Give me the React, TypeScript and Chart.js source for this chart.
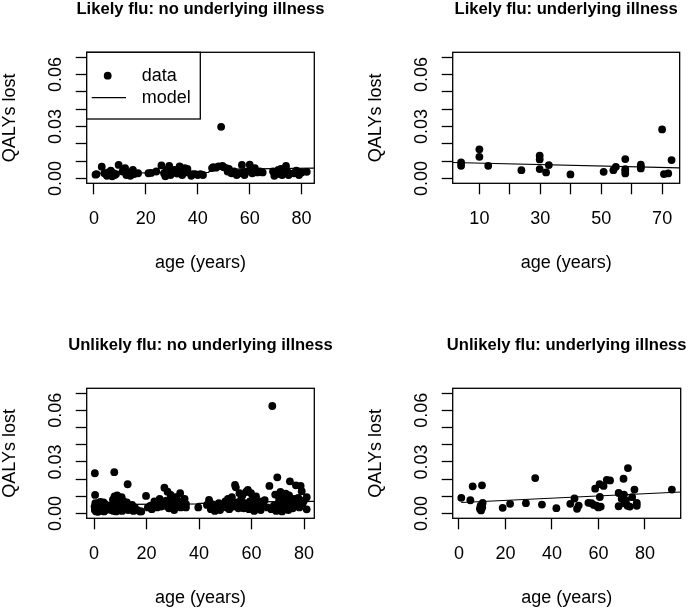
import React, { useEffect, useRef } from 'react';
import { Chart, registerables } from 'chart.js';

Chart.register(...registerables);

const FONT = '"Liberation Sans", Arial, Helvetica, sans-serif';

// ---------- axis ticks ----------
const yTickValues = [0, 0.01, 0.02, 0.03, 0.04, 0.05, 0.06, 0.07];
const yTickLabels = ['0.00', '', '', '0.03', '', '', '0.06', ''];
const xTicksWide = [0, 20, 40, 60, 80];
const xTickLabelsWide = ['0', '20', '40', '60', '80'];
const xTicksNarrow = [10, 20, 30, 40, 50, 60, 70];
const xTickLabelsNarrow = ['10', '', '30', '', '50', '', '70'];

const titles = [
  'Likely flu: no underlying illness',
  'Likely flu: underlying illness',
  'Unlikely flu: no underlying illness',
  'Unlikely flu: underlying illness',
];
const legendLabels = ['data', 'model'];
const xAxisTitle = 'age (years)';
const yAxisTitle = 'QALYs lost';

// ---------- Likely flu: no underlying illness ----------
const tlAges = [0.6, 1, 3, 4, 5, 5.5, 6, 6.5, 7, 7.5, 8, 8.5, 9.5, 11, 12, 12.5, 13, 14, 15, 15.5, 17, 21, 22, 24, 26, 27, 27.5, 28, 29, 29.5, 30, 31, 32, 33, 33.5, 34, 35, 35.5, 36, 37.5, 38, 39, 40, 41, 42, 45.5, 46, 47, 48, 49, 49.5, 50, 51, 51.5, 52, 53, 54, 55, 56, 57, 57.5, 58, 59, 60, 60.5, 61, 62, 63, 64, 65, 69, 69.5, 70, 71, 71.5, 72, 72.5, 73, 74, 74.5, 75, 77, 78, 79, 80, 82];
const tlQalys = [0.0022, 0.0025, 0.0068, 0.003, 0.0015, 0.0035, 0.002, 0.0045, 0.0012, 0.003, 0.002, 0.0025, 0.0078, 0.004, 0.006, 0.002, 0.0035, 0.0015, 0.005, 0.0025, 0.003, 0.003, 0.0032, 0.004, 0.0075, 0.003, 0.0012, 0.005, 0.0072, 0.002, 0.0035, 0.005, 0.0028, 0.007, 0.0045, 0.002, 0.006, 0.0035, 0.0055, 0.0015, 0.0025, 0.0025, 0.002, 0.0025, 0.002, 0.006, 0.0065, 0.0062, 0.007, 0.0298, 0.0072, 0.0065, 0.006, 0.004, 0.0055, 0.003, 0.004, 0.002, 0.003, 0.0078, 0.0035, 0.002, 0.004, 0.008, 0.005, 0.003, 0.006, 0.0035, 0.004, 0.0035, 0.004, 0.0015, 0.003, 0.005, 0.0025, 0.0055, 0.002, 0.004, 0.0072, 0.004, 0.002, 0.003, 0.0045, 0.002, 0.0035, 0.0038];
const tlModelAges = [0, 44, 46, 84.9];
const tlModelQalys = [0.003, 0.0035, 0.0052, 0.006];

// ---------- Likely flu: underlying illness ----------
const trAges = [4, 4, 10, 10, 12.9, 23.8, 29.8, 29.8, 29.8, 31.9, 32.8, 39.9, 50.8, 54, 54.8, 57.9, 57.9, 57.9, 57.9, 63, 63, 63, 70, 70.6, 72, 73.1];
const trQalys = [0.0092, 0.0073, 0.0168, 0.0125, 0.0073, 0.0048, 0.0131, 0.011, 0.0054, 0.0035, 0.0077, 0.0023, 0.0038, 0.0048, 0.0067, 0.0112, 0.0054, 0.0029, 0.0044, 0.0079, 0.0058, 0.0068, 0.0283, 0.0025, 0.0029, 0.0106];
const trModelAges = [1.24, 75.76];
const trModelQalys = [0.0092, 0.0061];

// ---------- Unlikely flu: no underlying illness ----------
const blAges = [
  0.3, 0.4, 0.2, 0.3, 0.5, 0.6, 0.8, 1, 1.1, 1.3, 1.5, 1.6, 1.8, 2, 2.2, 2.4, 2.6, 2.9, 3.1, 3.3, 3.6, 3.8, 4, 4.3, 4.6, 5,
  6.5, 6.8, 7, 7.2, 7.4, 7.6, 7.7, 7.8, 8, 8.2, 8.4, 8.6, 8.8, 9, 9.2, 9.4, 9.6, 9.8, 10, 10.2, 10.5, 10.7, 11, 11.3, 11.5,
  12, 12.5, 12.8, 13, 13.5, 14, 14.5, 15, 15.5, 16.5, 17.5, 18,
  19.8, 20.5, 21.5, 22, 23, 23.5, 24, 25, 25.5, 26, 26.8, 27,
  27.5, 28, 28.5, 29.2, 29.5, 30, 30.5, 31, 31.5, 32, 32.8, 33, 33.5, 34, 34.5, 35, 35,
  39.7, 43, 43.8, 44.5, 45, 45.5, 46, 46.5, 47.5, 48, 48.5, 49.5, 50,
  50.5, 51, 51.5, 52, 52.5, 53, 53.7, 54, 54.5, 55, 55.4, 55.8, 56, 56.5, 57, 57.5, 57.9, 58.2, 58.6, 59, 59.4, 59.8, 60.2, 60.5, 61, 61.3, 61.7, 62, 62.5, 63, 63.5, 64.5, 65, 66,
  66.8, 67.5, 67.9, 68.5, 69, 69.4, 69.8, 70.2, 70.5, 70.8, 71, 71.3, 71.6, 71.9, 72.2, 72.5, 72.8, 73, 73.3, 73.6, 74, 74.3, 74.6, 75, 75.3, 75.7, 76.2, 76.9, 77.3, 77.8, 78.2, 78.7, 79.1, 79.5, 80, 81, 81,
];
const blQalys = [
  0.0234, 0.0108, 0.004, 0.002, 0.006, 0.003, 0.0012, 0.005, 0.0025, 0.0035, 0.001, 0.006, 0.003, 0.0045, 0.0015, 0.0068, 0.003, 0.005, 0.002, 0.004, 0.0065, 0.0012, 0.003, 0.0055, 0.002, 0.004,
  0.002, 0.005, 0.0035, 0.008, 0.0015, 0.006, 0.024, 0.01, 0.003, 0.0045, 0.0012, 0.007, 0.0105, 0.0025, 0.005, 0.0085, 0.0018, 0.004, 0.006, 0.003, 0.0095, 0.0015, 0.005, 0.007, 0.0025,
  0.004, 0.0065, 0.017, 0.002, 0.0045, 0.003, 0.005, 0.0015, 0.0035, 0.002, 0.0012, 0.0012,
  0.0102, 0.0035, 0.0045, 0.0025, 0.007, 0.005, 0.0035, 0.0085, 0.004, 0.006, 0.015, 0.0045,
  0.0075, 0.0127, 0.003, 0.0108, 0.006, 0.0085, 0.002, 0.0095, 0.005, 0.0075, 0.0118, 0.0035, 0.0065, 0.0045, 0.0085, 0.0055, 0.0035,
  0.0035, 0.005, 0.0079, 0.0025, 0.0055, 0.0035, 0.0015, 0.0045, 0.006, 0.002, 0.0035, 0.005, 0.007,
  0.0035, 0.0085, 0.0025, 0.0055, 0.0095, 0.004, 0.0166, 0.0152, 0.0065, 0.003, 0.0118, 0.0045, 0.008, 0.0105, 0.003, 0.006, 0.0125, 0.0045, 0.0137, 0.0025, 0.007, 0.0118, 0.004, 0.0085, 0.0015, 0.0055, 0.0099, 0.003, 0.0065, 0.007, 0.002, 0.0045, 0.0078, 0.0035,
  0.016, 0.0025, 0.0625, 0.0045, 0.011, 0.0015, 0.021, 0.006, 0.0085, 0.003, 0.0125, 0.0045, 0.0012, 0.007, 0.0095, 0.0025, 0.005, 0.0115, 0.0035, 0.0075, 0.002, 0.0105, 0.0187, 0.0045, 0.0065, 0.003, 0.0085, 0.0164, 0.0055, 0.009, 0.0035, 0.016, 0.013, 0.006, 0.0075, 0.0095, 0.0024,
];
const blModelAges = [0, 39, 40, 59.5, 60.5, 83.9];
const blModelQalys = [0.0052, 0.0056, 0.0059, 0.0062, 0.0068, 0.007];

// ---------- Unlikely flu: underlying illness ----------
const brAges = [1, 4.9, 5.9, 9, 9.3, 9.5, 9.9, 10, 10.2, 18.8, 22, 28.8, 32.8, 35.7, 41.9, 47.9, 49.7, 50.8, 51.5, 55.7, 57, 58, 58.6, 59.2, 60, 60.5, 60.6, 61, 62.2, 63.6, 65, 68.7, 68.7, 70, 70.8, 71, 71.3, 71.8, 72.7, 72.5, 73.5, 74.5, 75.5, 76.5, 76.5, 91.6];
const brQalys = [0.0091, 0.0077, 0.0158, 0.0028, 0.0045, 0.0018, 0.0164, 0.0035, 0.0062, 0.0033, 0.0056, 0.006, 0.0206, 0.0052, 0.0031, 0.0056, 0.0087, 0.0027, 0.0046, 0.0062, 0.006, 0.005, 0.0144, 0.0045, 0.0035, 0.0171, 0.0096, 0.004, 0.016, 0.0196, 0.0192, 0.0119, 0.0042, 0.0085, 0.0202, 0.011, 0.006, 0.0075, 0.0264, 0.0045, 0.004, 0.0095, 0.0139, 0.0062, 0.0045, 0.0139];
const brModelAges = [1, 95.4];
const brModelQalys = [0.0064, 0.0125];

const Y_MIN = -0.0028;
const Y_MAX = 0.0728;

type Panel = {
  title: string;
  ages: number[];
  qalys: number[];
  mAges: number[];
  mQalys: number[];
  xMin: number;
  xMax: number;
  xTicks: number[];
  xLabels: string[];
  legend: boolean;
  left: number;
  top: number;
  w: number;
  h: number;
  area: { l: number; t: number; r: number; b: number };
};

const panels: Panel[] = [
  { title: titles[0], ages: tlAges, qalys: tlQalys, mAges: tlModelAges, mQalys: tlModelQalys, xMin: -2.8, xMax: 84.9, xTicks: xTicksWide, xLabels: xTickLabelsWide, legend: true,
    left: 0, top: 0, w: 344, h: 300, area: { l: 86.7, t: 52.3, r: 314.3, b: 183.3 } },
  { title: titles[1], ages: trAges, qalys: trQalys, mAges: trModelAges, mQalys: trModelQalys, xMin: 1.24, xMax: 75.76, xTicks: xTicksNarrow, xLabels: xTickLabelsNarrow, legend: false,
    left: 344, top: 0, w: 344, h: 300, area: { l: 108.7, t: 52.3, r: 336.7, b: 183.3 } },
  { title: titles[2], ages: blAges, qalys: blQalys, mAges: blModelAges, mQalys: blModelQalys, xMin: -2.8, xMax: 83.9, xTicks: xTicksWide, xLabels: xTickLabelsWide, legend: false,
    left: 0, top: 300, w: 344, h: 309, area: { l: 86.7, t: 88.3, r: 314.3, b: 218.3 } },
  { title: titles[3], ages: brAges, qalys: brQalys, mAges: brModelAges, mQalys: brModelQalys, xMin: -2.7, xMax: 95.4, xTicks: xTicksWide, xLabels: xTickLabelsWide, legend: false,
    left: 344, top: 300, w: 344, h: 309, area: { l: 108.7, t: 88.3, r: 336.7, b: 218.3 } },
];

const Y_AXIS_W = 30;
const X_AXIS_H = 50;
const POINT_R = 3.9;

function makeDecor(p: Panel) {
  return {
    id: 'decor',
    afterDraw(chart: any) {
      const { ctx, chartArea: a } = chart;
      ctx.save();
      ctx.strokeStyle = '#000';
      ctx.lineWidth = 1.3;
      ctx.strokeRect(a.left, a.top, a.right - a.left, a.bottom - a.top);
      ctx.fillStyle = '#000';
      const cx = (a.left + a.right) / 2;
      ctx.textAlign = 'center';
      ctx.textBaseline = 'alphabetic';
      ctx.font = `bold 16.6px ${FONT}`;
      ctx.fillText(p.title, cx, a.top - 38.5);
      ctx.font = `18px ${FONT}`;
      ctx.fillText(xAxisTitle, cx, a.bottom + 85);
      ctx.save();
      ctx.translate(a.left - 72, (a.top + a.bottom) / 2);
      ctx.rotate(-Math.PI / 2);
      ctx.fillText(yAxisTitle, 0, 0);
      ctx.restore();
      const ys = chart.scales.y;
      ys.ticks.forEach((t: any, i: number) => {
        const lab = yTickLabels[i];
        if (!lab) return;
        const py = ys.getPixelForValue(t.value);
        ctx.save();
        ctx.translate(a.left - 25.8, py);
        ctx.rotate(-Math.PI / 2);
        ctx.fillText(lab, 0, 0);
        ctx.restore();
      });
      if (p.legend) {
        const bw = 113.6, bh = 66.7;
        ctx.lineWidth = 1.3;
        ctx.fillStyle = '#fff';
        ctx.fillRect(a.left, a.top, bw, bh);
        ctx.strokeRect(a.left, a.top, bw, bh);
        ctx.fillStyle = '#000';
        ctx.beginPath();
        ctx.arc(a.left + 21, a.top + 23.4, POINT_R, 0, Math.PI * 2);
        ctx.fill();
        ctx.lineWidth = 1.2;
        ctx.beginPath();
        ctx.moveTo(a.left + 5, a.top + 45.4);
        ctx.lineTo(a.left + 39.3, a.top + 45.4);
        ctx.stroke();
        ctx.textAlign = 'left';
        ctx.textBaseline = 'middle';
        ctx.font = `18px ${FONT}`;
        ctx.fillText(legendLabels[0], a.left + 55, a.top + 23.4);
        ctx.fillText(legendLabels[1], a.left + 55, a.top + 45.4);
      }
      ctx.restore();
    },
  };
}

function PanelChart({ p }: { p: Panel }) {
  const ref = useRef<HTMLCanvasElement | null>(null);
  useEffect(() => {
    if (!ref.current) return;
    const pts = p.ages.map((x, i) => ({ x, y: p.qalys[i] }));
    const model = p.mAges.map((x, i) => ({ x, y: p.mQalys[i] }));
    const chart = new Chart(ref.current, {
      type: 'scatter',
      data: {
        datasets: [
          { label: legendLabels[1], data: model, showLine: true, borderColor: '#000', borderWidth: 1.2, pointRadius: 0, tension: 0, fill: false } as any,
          { label: legendLabels[0], data: pts, backgroundColor: '#000', borderWidth: 0, pointRadius: POINT_R, pointHoverRadius: POINT_R } as any,
        ],
      },
      options: {
        animation: false,
        responsive: false,
        maintainAspectRatio: false,
        devicePixelRatio: 1,
        events: [],
        layout: {
          padding: {
            left: p.area.l - Y_AXIS_W,
            top: p.area.t,
            right: p.w - p.area.r,
            bottom: p.h - p.area.b - X_AXIS_H,
          },
        },
        plugins: { legend: { display: false }, tooltip: { enabled: false }, title: { display: false } },
        scales: {
          x: {
            type: 'linear',
            min: p.xMin,
            max: p.xMax,
            afterBuildTicks: (s: any) => { s.ticks = p.xTicks.map((v) => ({ value: v })); },
            afterFit: (s: any) => { s.height = X_AXIS_H; },
            ticks: {
              autoSkip: false,
              maxRotation: 0,
              minRotation: 0,
              padding: 15.3,
              color: '#000',
              font: { size: 18, family: FONT, lineHeight: 1 },
              callback: (_v: any, i: number) => p.xLabels[i],
            },
            grid: { drawOnChartArea: false, drawTicks: true, tickLength: 11, tickColor: '#000', tickWidth: 1.3 },
            border: { display: false },
          },
          y: {
            type: 'linear',
            min: Y_MIN,
            max: Y_MAX,
            afterBuildTicks: (s: any) => { s.ticks = yTickValues.map((v) => ({ value: v })); },
            afterFit: (s: any) => { s.width = Y_AXIS_W; },
            ticks: { display: false },
            grid: { drawOnChartArea: false, drawTicks: true, tickLength: 11, tickColor: '#000', tickWidth: 1.3 },
            border: { display: false },
          },
        } as any,
      },
      plugins: [makeDecor(p)],
    });
    return () => chart.destroy();
  }, [p]);
  return (
    <canvas
      ref={ref}
      width={p.w}
      height={p.h}
      style={{ position: 'absolute', left: p.left, top: p.top, width: p.w, height: p.h }}
    />
  );
}

export default function App() {
  return (
    <div style={{ position: 'absolute', left: 0, top: 0, width: 688, height: 609, background: '#fff', overflow: 'hidden' }}>
      {panels.map((p, i) => (
        <PanelChart key={i} p={p} />
      ))}
    </div>
  );
}
